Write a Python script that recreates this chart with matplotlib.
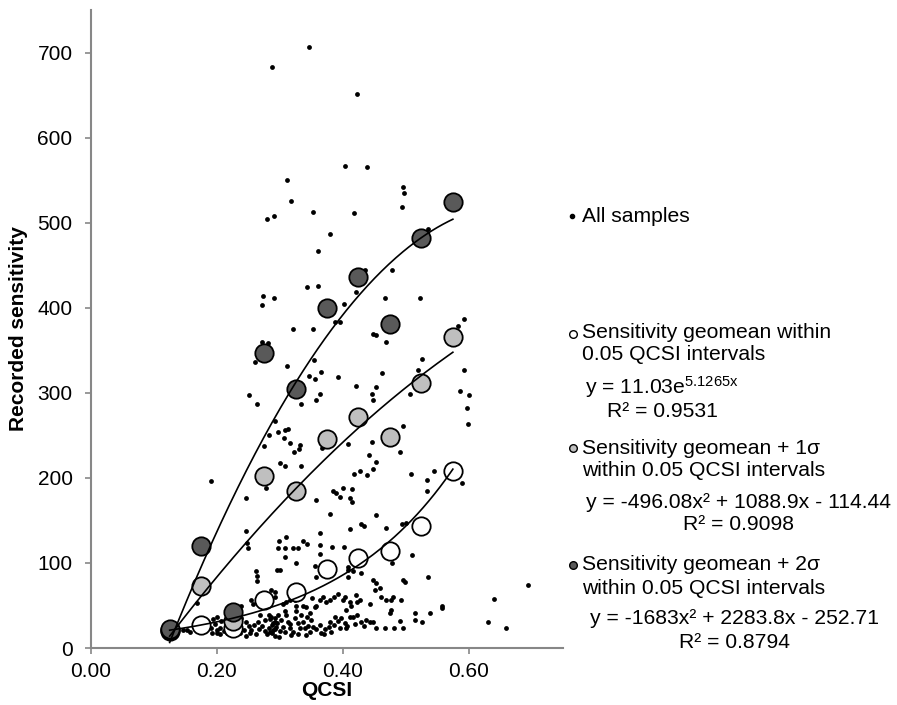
import numpy as np
import matplotlib
matplotlib.use('Agg')
import matplotlib.pyplot as plt
from matplotlib.lines import Line2D

plt.rcParams['font.family'] = ['Liberation Sans', 'DejaVu Sans']
plt.rcParams['mathtext.fontset'] = 'custom'
plt.rcParams['mathtext.rm'] = 'Liberation Sans'
plt.rcParams['mathtext.it'] = 'Liberation Sans:italic'

# all samples (QCSI, recorded sensitivity)
sample_x = [
    0.346, 0.287, 0.422, 0.403, 0.438, 0.312, 0.496, 0.497, 0.318, 0.494,
    0.352, 0.418, 0.280, 0.290, 0.380, 0.360, 0.478, 0.435, 0.344, 0.360,
    0.2725, 0.2735, 0.290, 0.4016, 0.4206, 0.4667, 0.5228, 0.321, 0.353, 0.387,
    0.395, 0.448, 0.453, 0.468, 0.2725, 0.281, 0.535,
    0.261, 0.3545, 0.312, 0.3466, 0.3556, 0.366, 0.3926, 0.2513, 0.264,
    0.334, 0.3646, 0.358, 0.2926, 0.283, 0.2973, 0.309, 0.313, 0.307, 0.317,
    0.3317, 0.3307, 0.322, 0.2746, 0.3677, 0.300, 0.309, 0.334, 0.190, 0.2778,
    0.247, 0.357, 0.3847, 0.39,
    0.5926, 0.583, 0.5254, 0.5196, 0.5926, 0.5868, 0.601, 0.5968, 0.599, 0.421,
    0.4624, 0.4534, 0.4466, 0.4487, 0.507, 0.495, 0.4085, 0.4466, 0.4905, 0.4418,
    0.453, 0.4476, 0.428, 0.418, 0.439, 0.5085, 0.545, 0.5333, 0.5333, 0.5894,
    0.401, 0.415, 0.3957, 0.412, 0.414,
    0.379, 0.411, 0.4296, 0.434, 0.4534, 0.469, 0.402, 0.383, 0.4085,
    0.247, 0.248, 0.25, 0.262, 0.264, 0.264, 0.2535, 0.2577, 0.1677, 0.239,
    0.2338, 0.1466, 0.152, 0.157,
    0.186, 0.191, 0.194, 0.200, 0.206, 0.197, 0.205, 0.192, 0.201, 0.205,
    0.211, 0.2164, 0.2376, 0.2455, 0.2508, 0.2439, 0.2524, 0.2455, 0.2614, 0.2667,
    0.272, 0.2757, 0.2826, 0.2879, 0.2931, 0.2958, 0.28, 0.2931, 0.2587, 0.2323,
    0.2916, 0.2826, 0.2693,
    0.2868, 0.292, 0.2974, 0.3026, 0.2947, 0.2894, 0.300, 0.3053, 0.299, 0.3106,
    0.3132, 0.3159, 0.3212, 0.3238, 0.329, 0.3317, 0.3264, 0.3344, 0.337, 0.3397,
    0.3434, 0.3476, 0.3503, 0.345, 0.353, 0.3582, 0.3635, 0.3661, 0.3698, 0.3714,
    0.3783, 0.3794, 0.3873, 0.3926, 0.3979, 0.3952, 0.4048, 0.4069, 0.4111, 0.4164,
    0.4228, 0.4058, 0.4138, 0.4228, 0.427, 0.4111, 0.4005, 0.4032, 0.3926, 0.3857,
    0.3794, 0.3741, 0.3635, 0.3688, 0.3513, 0.3582, 0.3423, 0.3556, 0.337, 0.3264,
    0.3159, 0.3238, 0.3053, 0.3106, 0.292, 0.292, 0.2868, 0.4296, 0.4333, 0.443,
    0.4487, 0.4534, 0.4667, 0.481, 0.4905, 0.4958, 0.4762, 0.4746, 0.4683, 0.4773,
    0.48, 0.4487, 0.4534, 0.4587, 0.4508, 0.4614, 0.443, 0.4217, 0.4296, 0.4085,
    0.4085, 0.4164, 0.3582, 0.3556, 0.3254, 0.308, 0.2958, 0.300, 0.3635, 0.3635,
    0.2974, 0.308, 0.3212, 0.329, 0.337, 0.3439, 0.299, 0.3095, 0.3635, 0.4958,
    0.4984, 0.4788, 0.4772,
    0.5106, 0.536, 0.4931, 0.5148, 0.5148, 0.5254, 0.538, 0.5577, 0.5577, 0.6302,
    0.6397, 0.6598, 0.6937, 0.5011, 0.4947,
    0.2841, 0.2884, 0.3079, 0.3169, 0.3079, 0.3185, 0.329, 0.3476, 0.3423, 0.3815,
    0.3868, 0.4032, 0.419, 0.4376, 0.255, 0.2365, 0.2206, 0.2656, 0.2762, 0.2841,
    0.2894, 0.218, 0.1995,
]
sample_y = [
    707, 683, 651, 567, 566, 550, 542, 535, 526, 518,
    512, 511, 504, 508, 487, 467, 444, 444, 424, 425,
    403, 414, 412, 404, 418, 411, 411, 375, 375, 383,
    383, 369, 368, 360, 360, 358, 492,
    336, 338, 331, 320, 316, 324, 319, 298, 287,
    287, 299, 291, 267, 250, 254, 256, 257, 247, 241,
    239, 234, 230, 237, 235, 218, 214, 214, 196, 188,
    176, 174, 184, 182,
    387, 379, 340, 327, 327, 302, 298, 282, 263, 308,
    323, 307, 299, 292, 299, 261, 240, 242, 230, 227,
    219, 211, 208, 204, 203, 205, 208, 197, 184, 194,
    188, 187, 178, 176, 172,
    158, 140, 146, 143, 156, 141, 119, 119, 95,
    138, 124, 118, 90, 85, 79, 56, 52, 53, 49,
    48, 21, 21, 19,
    31, 23, 34, 36, 32, 28, 24, 18, 18, 16,
    20, 18, 35, 31, 26, 21, 18, 14, 16, 22,
    26, 20, 23, 18, 22, 29, 16, 14, 27, 25,
    35, 39, 39,
    37, 31, 39, 33, 25, 21, 20, 25, 13, 39,
    31, 23, 19, 35, 29, 23, 43, 39, 31, 23,
    37, 41, 33, 26, 25, 22, 27, 18, 16, 22,
    25, 31, 36, 32, 35, 24, 23, 26, 37, 37,
    39, 45, 49, 54, 56, 54, 56, 60, 64, 60,
    56, 54, 56, 60, 59, 49, 48, 48, 49, 49,
    56, 56, 52, 54, 60, 66, 68, 30, 26, 30,
    30, 23, 23, 23, 32, 23, 45, 41, 56, 56,
    60, 80, 76, 70, 68, 60, 52, 62, 88, 84,
    92, 90, 84, 96, 100, 107, 92, 92, 111, 121,
    117, 117, 118, 118, 126, 122, 126, 130, 135, 80,
    78, 100, 109,
    109, 84, 56, 41, 33, 30, 41, 49, 47, 30,
    58, 24, 74, 147, 146,
    34, 27, 43, 28, 19, 15, 17, 19, 15, 19,
    27, 29, 28, 33, 21, 18, 29, 31, 33, 19,
    29, 23, 21,
]

# binned geomeans (0.05 QCSI intervals)
bin_x = [0.125, 0.175, 0.225, 0.275, 0.325, 0.375, 0.425, 0.475, 0.525, 0.575]
geomean = [20, 27, 24, 57, 66, 93, 106, 114, 143, 208]
geomean_1s = [21, 73, 32, 202, 185, 246, 271, 248, 312, 366]
geomean_2s = [22, 120, 42, 347, 304, 400, 436, 381, 482, 524]

# trendline coefficients as printed on the chart
exp_a, exp_b = 11.03, 5.1265
poly_1s = [-496.08, 1088.9, -114.44]
poly_2s = [-1683, 2283.8, -252.71]

W, H = 897, 705
fig = plt.figure(figsize=(W / 100, H / 100), dpi=100)
ax = fig.add_axes([91 / W, 1 - 648 / H, (563 - 91) / W, (648 - 10) / H])

ax.scatter(sample_x, sample_y, s=12, color='black', linewidths=0, zorder=2)
ax.scatter(bin_x, geomean, s=175, facecolor='white', edgecolor='black', linewidths=1.3, zorder=3)
ax.scatter(bin_x, geomean_1s, s=175, facecolor='#bfbfbf', edgecolor='black', linewidths=1.3, zorder=4)
ax.scatter(bin_x, geomean_2s, s=175, facecolor='#595959', edgecolor='black', linewidths=1.3, zorder=5)

xs = np.linspace(bin_x[0], bin_x[-1], 200)
ax.plot(xs, exp_a * np.exp(exp_b * xs), color='black', lw=1.2, zorder=6)
ax.plot(xs, np.polyval(poly_1s, xs), color='black', lw=1.2, zorder=6)
ax.plot(xs, np.polyval(poly_2s, xs), color='black', lw=1.2, zorder=6)

ax.set_xlim(0, 0.75)
ax.set_ylim(0, 750)
ax.set_xticks([0, 0.2, 0.4, 0.6])
ax.set_xticklabels(['0.00', '0.20', '0.40', '0.60'])
ax.set_yticks(range(0, 701, 100))
for side in ['top', 'right']:
    ax.spines[side].set_visible(False)
for side in ['left', 'bottom']:
    ax.spines[side].set_color('#878787')
    ax.spines[side].set_linewidth(1.5)
ax.tick_params(direction='out', length=4.3, width=1.2, color='#878787',
               labelsize=15, labelcolor='black')
ax.tick_params(axis='y', pad=9)
ax.tick_params(axis='x', pad=5.5)

ax.set_ylabel('Recorded sensitivity', fontsize=15, fontweight='bold')
ax.yaxis.set_label_coords((28 - 91) / (563 - 91), 0.5)
ax.set_xlabel('QCSI', fontsize=15, fontweight='bold')
ax.xaxis.set_label_coords(0.5, (648 - 681) / (648 - 10))


def fx(px):
    return px / W


def fy(py):
    return 1 - py / H


def legend_marker(px, py, size, face):
    fig.add_artist(Line2D([fx(px)], [fy(py)], marker='o', markersize=size,
                          markerfacecolor=face, markeredgecolor='black',
                          markeredgewidth=1.0, linestyle='none'))


def label(px, py, s, ha='left'):
    fig.text(fx(px), fy(py), s, fontsize=15.2, ha=ha, va='center')


fig.add_artist(Line2D([fx(572)], [fy(216)], marker='o', markersize=3,
                      color='black', linestyle='none'))
label(582, 216, 'All samples')

legend_marker(573, 334, 5.5, 'white')
label(582, 333, 'Sensitivity geomean within')
label(582, 355, '0.05 QCSI intervals')
label(662, 387, r'y = 11.03e$^{\mathrm{5.1265x}}$', ha='center')
label(662, 412, 'R² = 0.9531', ha='center')

legend_marker(573, 448, 5.5, '#bfbfbf')
label(582, 448, 'Sensitivity geomean + 1σ')
label(582, 471, 'within 0.05 QCSI intervals')
label(738, 502, 'y = -496.08x² + 1088.9x - 114.44', ha='center')
label(738, 525, 'R² = 0.9098', ha='center')

legend_marker(573, 565, 5.5, '#595959')
label(582, 565, 'Sensitivity geomean + 2σ')
label(582, 588, 'within 0.05 QCSI intervals')
label(734, 618, 'y = -1683x² + 2283.8x - 252.71', ha='center')
label(734, 642, 'R² = 0.8794', ha='center')

fig.savefig('out.png', dpi=100)
